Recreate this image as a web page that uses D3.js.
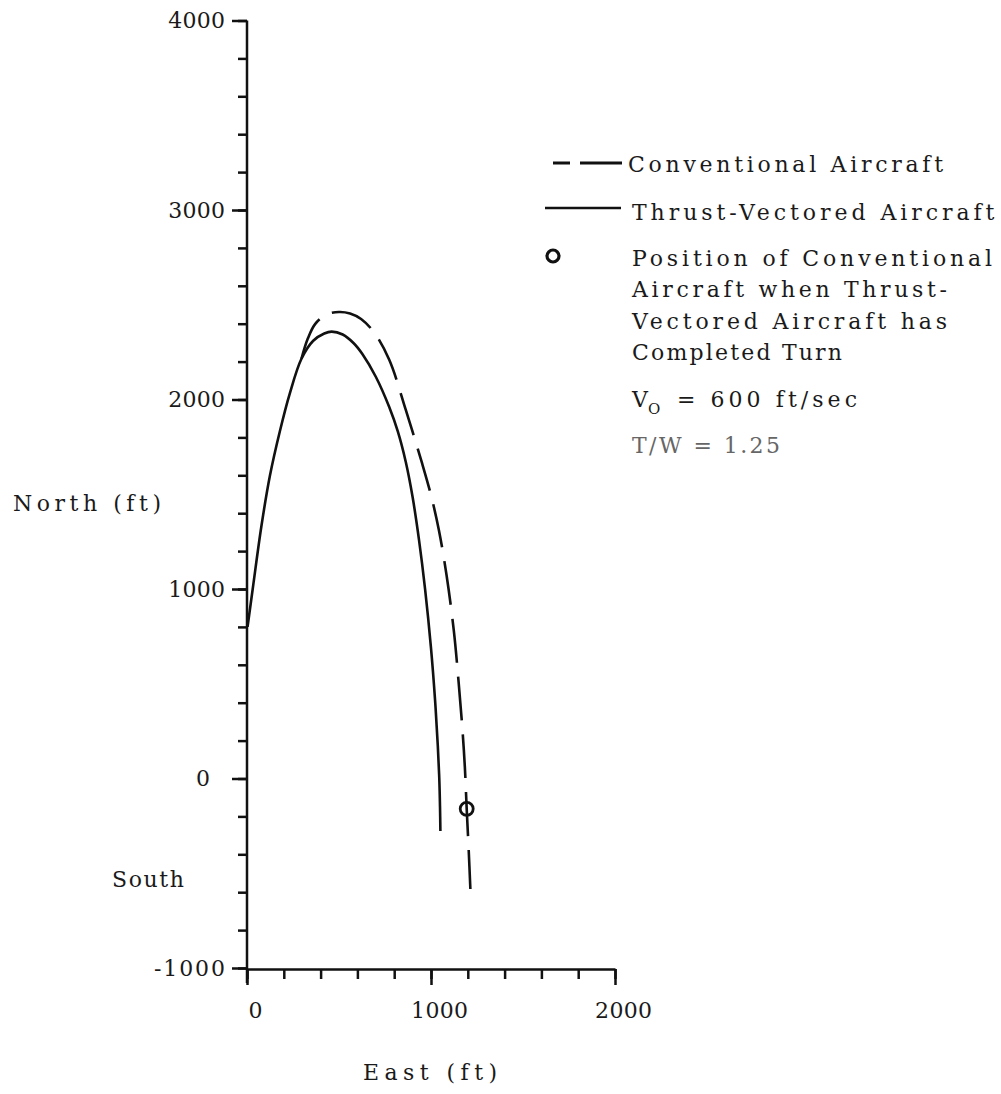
<!DOCTYPE html>
<html>
<head>
<meta charset="utf-8">
<script src="https://cdn.jsdelivr.net/npm/d3@7"></script>
<style>
  body { margin: 0; background: #fff; }
  text { font-family: "DejaVu Serif", serif; font-size: 22px; fill: #1a1a1a; }
  .axis path, .axis line { stroke: #111; stroke-width: 2.5; }
</style>
</head>
<body>
<script>
// thrust-vectored aircraft ground track (ft)
const tvEast  = [3, 31, 78, 125, 178, 232, 296, 360, 420, 460, 520, 580, 627, 700, 773, 820, 863, 900, 935, 968, 1000, 1022, 1037, 1045, 1049, 1051];
const tvNorth = [800, 1000, 1330, 1600, 1830, 2030, 2215, 2310, 2348, 2358, 2343, 2297, 2240, 2120, 1960, 1830, 1670, 1485, 1258, 998, 688, 415, 172, 0, -150, -277];

// conventional aircraft ground track (ft)
const convEast  = [296, 330, 370, 430, 500, 560, 620, 690, 773, 863, 951, 1000, 1043, 1085, 1124, 1150, 1170, 1184, 1194, 1205, 1214];
const convNorth = [2215, 2320, 2398, 2447, 2462, 2454, 2425, 2355, 2210, 1945, 1665, 1495, 1310, 1070, 780, 510, 270, 60, -160, -380, -583];

// conventional aircraft when the thrust-vectored one has completed its turn
const markEast = [1194];
const markNorth = [-160];

const yLabels = [-1000, 0, 1000, 2000, 3000, 4000];
const xLabels = [0, 1000, 2000];

const legendNotes = ["Position of Conventional", "Aircraft when Thrust-", "Vectored Aircraft has", "Completed Turn"];

function typed(sel, pitch) {
    sel.attr("textLength", function() { return this.textContent.length * pitch; })
        .attr("lengthAdjust", "spacing");
}

function main() {

    let svg = d3.select("body").append("svg")
        .attr("width", 1001)
        .attr("height", 1094);

    svg.append("rect").attr("width", 1001).attr("height", 1094).attr("fill", "#fff");

    let xScale = d3.scaleLinear().domain([0, 2000]).range([247, 615]);
    let yScale = d3.scaleLinear().domain([-1000, 4000]).range([968, 20.5]);

    // y axis: minor ticks, then major ticks with labels
    svg.append("g").attr("class", "axis")
        .attr("transform", `translate(${xScale(0)},0)`)
        .call(d3.axisLeft(yScale).tickValues(yScale.ticks(25)).tickSize(9).tickSizeOuter(0).tickFormat(""))
        .call(g => g.select(".domain").remove());

    let gy = svg.append("g").attr("class", "axis")
        .attr("transform", `translate(${xScale(0)},0)`);
    gy.call(d3.axisLeft(yScale).tickValues(yLabels).tickSize(15).tickSizeOuter(0).tickPadding(7).tickFormat(d => d));
    gy.select(".domain").remove();
    gy.append("line")
        .attr("x1", 0).attr("x2", 0)
        .attr("y1", yScale(4000)).attr("y2", yScale(-1000) + 15);
    gy.selectAll(".tick text")
        .attr("fill", "#1a1a1a")
        .attr("font-family", null).attr("font-size", null)
        .attr("dx", d => d === 0 ? -15 : 0)
        .call(typed, 14.2);

    // x axis
    let xBase = yScale(-1000) + 1;
    svg.append("g").attr("class", "axis")
        .attr("transform", `translate(0,${xBase})`)
        .call(d3.axisBottom(xScale).tickValues(xScale.ticks(10)).tickSize(10).tickSizeOuter(0).tickFormat(""));
    let gx = svg.append("g").attr("class", "axis")
        .attr("transform", `translate(0,${xBase})`);
    gx.call(d3.axisBottom(xScale).tickValues(xLabels).tickSize(16).tickSizeOuter(0).tickFormat(d => d));
    gx.select(".domain").remove();
    gx.selectAll(".tick text")
        .attr("fill", "#1a1a1a")
        .attr("font-family", null).attr("font-size", null)
        .attr("y", 49).attr("dy", 0).attr("dx", 8)
        .call(typed, 14.2);

    // axis titles
    svg.append("text").attr("x", 13).attr("y", 511).text("North (ft)").call(typed, 14.8);
    svg.append("text").attr("x", 112).attr("y", 887).text("South").call(typed, 14.4);
    svg.append("text").attr("x", 363).attr("y", 1080).text("East (ft)").call(typed, 14.9);

    let line = d3.line()
        .x(d => xScale(d[0]))
        .y(d => yScale(d[1]))
        .curve(d3.curveCatmullRom.alpha(0.5));

    svg.append("path")
        .datum(tvEast.map((e, i) => [e, tvNorth[i]]))
        .attr("d", line)
        .attr("fill", "none")
        .attr("stroke", "#111")
        .attr("stroke-width", 2.6);

    svg.append("path")
        .datum(convEast.map((e, i) => [e, convNorth[i]]))
        .attr("d", line)
        .attr("fill", "none")
        .attr("stroke", "#111")
        .attr("stroke-width", 2.6)
        .attr("stroke-dasharray", "44,14");

    svg.selectAll("circle.mark")
        .data(markEast)
        .enter()
        .append("circle")
        .attr("class", "mark")
        .attr("cx", d => xScale(d))
        .attr("cy", (d, i) => yScale(markNorth[i]))
        .attr("r", 6.5)
        .attr("fill", "none")
        .attr("stroke", "#111")
        .attr("stroke-width", 2.8);

    // legend
    let legend = svg.append("g");
    legend.append("line")
        .attr("x1", 553).attr("x2", 622).attr("y1", 163).attr("y2", 163)
        .attr("stroke", "#111").attr("stroke-width", 2.8)
        .attr("stroke-dasharray", "17,10,42");
    legend.append("text").attr("x", 628).attr("y", 172).text("Conventional Aircraft").call(typed, 15);

    legend.append("line")
        .attr("x1", 545).attr("x2", 621).attr("y1", 208).attr("y2", 208)
        .attr("stroke", "#111").attr("stroke-width", 2.5);
    legend.append("text").attr("x", 632).attr("y", 220).text("Thrust-Vectored Aircraft").call(typed, 15.1);

    legend.append("circle")
        .attr("cx", 553).attr("cy", 256).attr("r", 6)
        .attr("fill", "none").attr("stroke", "#111").attr("stroke-width", 3.2);
    legend.selectAll("text.note")
        .data(legendNotes)
        .enter()
        .append("text")
        .attr("class", "note")
        .attr("x", 632)
        .attr("y", (d, i) => 266 + i * 31.3)
        .text(d => d)
        .call(typed, 15);

    legend.append("text").attr("x", 632).attr("y", 407).text("V").call(typed, 14);
    legend.append("text").attr("x", 648).attr("y", 414).style("font-size", "15px").text("O");
    legend.append("text").attr("x", 677).attr("y", 407).text("= 600 ft/sec").call(typed, 15);

    legend.append("text").attr("x", 632).attr("y", 453)
        .style("fill", "#666")
        .text("T/W = 1.25").call(typed, 14.8);
}

main()
</script>
</body>
</html>
